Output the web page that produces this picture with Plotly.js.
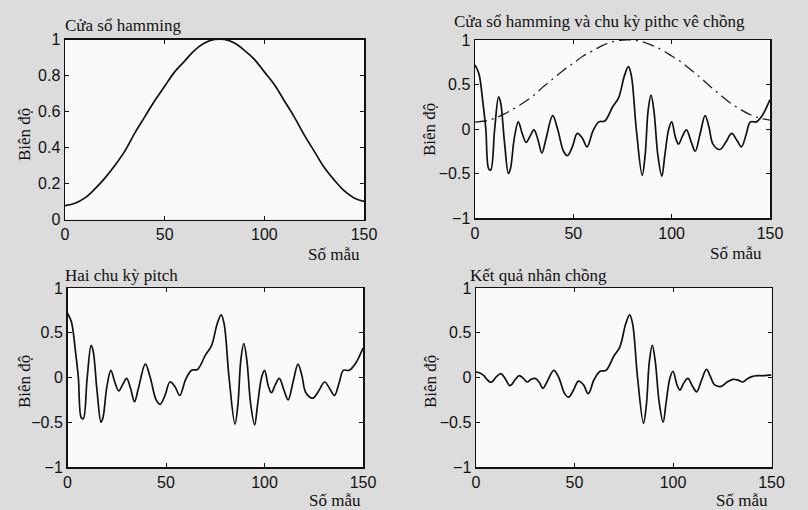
<!DOCTYPE html>
<html>
<head>
<meta charset="utf-8">
<script src="https://cdn.plot.ly/plotly-3.0.1.min.js"></script>
<style>html,body{margin:0;padding:0;background:#dcdcdc;}</style>
</head>
<body>
<div id="chart" style="width:808px;height:510px;"></div>
<script>
// Hamming window
const hamX = [0,5,10,15,20,25,30,35,40,45,50,55,60,65,70,75,80,85,90,95,100,105,110,115,120,125,130,135,140,145,150];
const hamY = [0.077,0.09,0.12,0.17,0.23,0.30,0.38,0.48,0.57,0.66,0.74,0.82,0.88,0.94,0.98,1.0,1.0,0.98,0.94,0.89,0.82,0.75,0.66,0.57,0.47,0.38,0.29,0.22,0.16,0.12,0.10];

// Two pitch periods
const sigX = [0,2,4,5.5,7,8,10,12,13,15,17,18,20,22,24,26,28,30,32,34,36,39.5,42,45,47,49.5,52,54.5,57,60,63,66,70,73,76,78,79.5,82,85,86.5,88,89.5,91,93,95,96.5,98.5,100,102,103.5,105.5,107.5,110,112,114.5,117,119,121,124.5,127.5,130.5,133,135.5,138,140,143,146,150];
const sigY = [0.72,0.62,0.30,0.0,-0.45,-0.46,0.0,0.36,0.30,-0.15,-0.50,-0.45,-0.10,0.08,-0.05,-0.15,-0.08,-0.01,-0.12,-0.27,-0.12,0.15,0.0,-0.25,-0.30,-0.20,-0.05,-0.10,-0.20,-0.02,0.08,0.09,0.25,0.35,0.60,0.70,0.60,0.0,-0.52,-0.30,0.20,0.38,0.20,-0.30,-0.53,-0.30,0.0,0.08,-0.10,-0.17,-0.08,-0.01,-0.15,-0.25,-0.05,0.15,0.02,-0.17,-0.23,-0.15,-0.05,-0.12,-0.20,-0.05,0.08,0.08,0.15,0.33];

// Windowed result
const resX = sigX;
const resY = [0.06,0.05,0.02,-0.02,-0.05,-0.05,0.0,0.04,0.04,-0.02,-0.09,-0.08,-0.02,0.02,-0.01,-0.05,-0.02,-0.01,-0.05,-0.12,-0.05,0.08,0.0,-0.18,-0.22,-0.14,-0.04,-0.08,-0.18,-0.02,0.07,0.08,0.24,0.34,0.60,0.70,0.60,0.0,-0.51,-0.30,0.18,0.36,0.18,-0.28,-0.50,-0.28,0.0,0.07,-0.08,-0.14,-0.06,-0.01,-0.10,-0.16,-0.03,0.09,0.01,-0.08,-0.10,-0.05,-0.02,-0.03,-0.05,-0.01,0.01,0.02,0.02,0.03];

const titles = ["Cửa sổ hamming","Cửa sổ hamming và chu kỳ pithc vê chồng","Hai chu kỳ pitch","Kết quả nhân chồng"];
const xTitle = "Số mẫu";
const yTitle = "Biên độ";
const xTicks = [0,50,100,150];
const yTicksHam = [0,0.2,0.4,0.6,0.8,1];
const yTicksSig = [-1,-0.5,0,0.5,1];

const line = {color:'#111', width:1.7, shape:'spline', smoothing:1.0};
const traces = [
  {x:hamX, y:hamY, xaxis:'x', yaxis:'y', mode:'lines', line:line},
  {x:hamX, y:hamY, xaxis:'x2', yaxis:'y2', mode:'lines', line:{color:'#222', width:1.3, dash:'12px,5px,2px,5px', shape:'spline'}},
  {x:sigX, y:sigY, xaxis:'x2', yaxis:'y2', mode:'lines', line:line},
  {x:sigX, y:sigY, xaxis:'x3', yaxis:'y3', mode:'lines', line:line},
  {x:resX, y:resY, xaxis:'x4', yaxis:'y4', mode:'lines', line:line}
];

const tickFont = {family:'Liberation Sans, Arial, sans-serif', size:16, color:'#111'};
function xa(dom, anchor){return {domain:dom, anchor:anchor, range:[0,150], tickvals:xTicks, ticks:'inside', ticklen:4, tickcolor:'#111', mirror:'ticks', showline:true, linecolor:'#111', linewidth:1.5, showgrid:false, zeroline:false, tickfont:tickFont, fixedrange:true};}
function ya(dom, anchor, rng, tv){return {domain:dom, anchor:anchor, range:rng, tickvals:tv, ticks:'inside', ticklen:4, tickcolor:'#111', mirror:'ticks', showline:true, linecolor:'#111', linewidth:1.5, showgrid:false, zeroline:false, tickfont:tickFont, fixedrange:true};}

const W=808, H=510;
const serif = {family:'Liberation Serif, Times New Roman, serif', size:17, color:'#111'};
function ann(text, px, py, opts){
  return Object.assign({text:text, xref:'paper', yref:'paper', x:px/W, y:1-py/H, showarrow:false, font:serif, xanchor:'left', yanchor:'middle'}, opts||{});
}
const annotations = [
  ann(titles[0], 63, 25),
  ann(titles[1], 452, 22),
  ann(titles[2], 63, 275),
  ann(titles[3], 468, 275),
  ann(xTitle, 334, 254, {xanchor:'center'}),
  ann(xTitle, 736, 253, {xanchor:'center'}),
  ann(xTitle, 335, 500, {xanchor:'center'}),
  ann(xTitle, 742, 500, {xanchor:'center'}),
  ann(yTitle, 25, 135, {xanchor:'center', textangle:-90}),
  ann(yTitle, 429, 130, {xanchor:'center', textangle:-90}),
  ann(yTitle, 24, 382, {xanchor:'center', textangle:-90}),
  ann(yTitle, 430, 382, {xanchor:'center', textangle:-90})
];

const layout = {
  width:W, height:H, margin:{l:0,r:0,t:0,b:0},
  paper_bgcolor:'#dcdcdc', plot_bgcolor:'#fafafa',
  showlegend:false,
  xaxis: xa([65/W, 364/W], 'y'),
  yaxis: ya([1-219.5/H, 1-39.5/H], 'x', [0,1], yTicksHam),
  xaxis2: xa([475/W, 770/W], 'y2'),
  yaxis2: ya([1-218/H, 1-40/H], 'x2', [-1,1], yTicksSig),
  xaxis3: xa([67.5/W, 363/W], 'y3'),
  yaxis3: ya([1-467/H, 1-288/H], 'x3', [-1,1], yTicksSig),
  xaxis4: xa([476/W, 771.5/W], 'y4'),
  yaxis4: ya([1-467/H, 1-288/H], 'x4', [-1,1], yTicksSig),
  annotations: annotations
};
Plotly.newPlot('chart', traces, layout, {displayModeBar:false, staticPlot:true});
</script>
</body>
</html>
